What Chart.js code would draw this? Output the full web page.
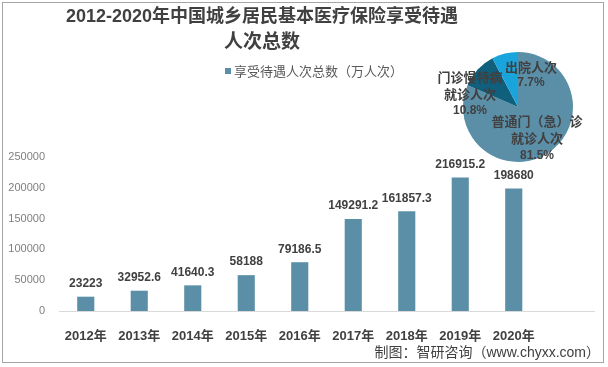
<!DOCTYPE html>
<html>
<head>
<meta charset="utf-8">
<script src="https://cdn.jsdelivr.net/npm/chart.js@4.4.1/dist/chart.umd.min.js"></script>
<style>
html,body{margin:0;padding:0;background:#fff}
#wrap{position:relative;width:608px;height:367px;overflow:hidden}
#frame{position:absolute;left:2px;top:2px;width:600px;height:359px;border:1px solid #a6a6a6;pointer-events:none}
#barBox{position:absolute;left:0;top:0;width:608px;height:367px}
#pieBox{position:absolute;left:430px;top:42px;width:176px;height:130px}
</style>
</head>
<body>
<div id="wrap">
  <div id="barBox"><canvas id="bar"></canvas></div>
  <div id="pieBox"><canvas id="pie"></canvas></div>
  <div id="frame"></div>
</div>
<script>
// ── Data ──
const years=['2012年','2013年','2014年','2015年','2016年','2017年','2018年','2019年','2020年',''];
const visits=[23223,32952.6,41640.3,58188,79186.5,149291.2,161857.3,216915.2,198680,null];
const yTicks=[0,50000,100000,150000,200000,250000];
const titleLines=['2012-2020年中国城乡居民基本医疗保险享受待遇','人次总数'];
const seriesName='享受待遇人次总数（万人次）';
const sourceText='制图：智研咨询（www.chyxx.com）';

const pieNames=['普通门（急）诊就诊人次','门诊慢特病就诊人次','出院人次'];
const pieShares=[81.5,10.8,7.7];

// ── Styles ──
const BAR='#5b8fa8';
const PIE_COLORS=[BAR,'#0f5f7d','#1aa4dc'];
const TXT='#404040';
const CJK='"Noto Sans CJK SC"';
const LAT='"Liberation Sans",'+CJK;

// ── Bar chart decorations: title, legend, value labels, source ──
const barDeco={
  id:'barDeco',
  afterDatasetsDraw(chart){
    const ctx=chart.ctx;
    ctx.save();
    ctx.textAlign='center';ctx.textBaseline='middle';
    // value labels
    ctx.font='bold 12px '+LAT;ctx.fillStyle=TXT;
    chart.getDatasetMeta(0).data.forEach((el,i)=>{
      if(visits[i]==null)return;
      ctx.fillText(String(visits[i]),el.x,el.y-13);
    });
    // title
    ctx.font='bold 18px '+LAT;ctx.fillStyle=TXT;
    ctx.fillText(titleLines[0],262,17);
    ctx.font='bold 19px '+LAT;
    ctx.fillText(titleLines[1],262,43);
    // legend
    ctx.fillStyle=BAR;ctx.fillRect(225,68,6,6);
    ctx.font='13px '+CJK;ctx.fillStyle='#595959';ctx.textAlign='left';
    ctx.fillText(seriesName,234,71);
    // source
    ctx.font='14px '+LAT;ctx.fillStyle=TXT;ctx.textAlign='right';
    ctx.fillText(sourceText,600,353);
    ctx.restore();
  }
};

new Chart(document.getElementById('bar'),{
  type:'bar',
  data:{labels:years,datasets:[{label:seriesName,data:visits,backgroundColor:BAR,barPercentage:0.64,categoryPercentage:0.5}]},
  options:{
    responsive:true,maintainAspectRatio:false,animation:false,
    layout:{padding:{top:157,right:14,left:0,bottom:0}},
    plugins:{legend:{display:false},tooltip:{enabled:false},title:{display:false}},
    scales:{
      x:{
        grid:{display:false},
        border:{color:'#d9d9d9',width:1},
        ticks:{color:TXT,font:{family:LAT,size:13,weight:'bold'},padding:10,maxRotation:0},
        afterFit(s){s.height=56}
      },
      y:{
        min:0,max:250000,
        grid:{display:false},border:{display:false},
        afterBuildTicks(s){s.ticks=yTicks.map(v=>({value:v}))},
        ticks:{color:'#7f7f7f',font:{family:LAT,size:11},padding:6,callback:v=>String(v)},
        afterFit(s){s.width=59}
      }
    }
  },
  plugins:[barDeco]
});

// ── Pie inset ──
const pieText=[
  {lines:['普通门（急）诊','就诊人次'],pct:'81.5%',x:107,ys:[79,96,114]},
  {lines:['门诊慢特病','就诊人次'],pct:'10.8%',x:40,ys:[35,52,69]},
  {lines:['出院人次'],pct:'7.7%',x:101,ys:[25,41]}
];
const pieDeco={
  id:'pieDeco',
  afterDatasetsDraw(chart){
    const ctx=chart.ctx;
    ctx.save();
    ctx.textAlign='center';ctx.textBaseline='middle';ctx.fillStyle=TXT;
    pieText.forEach((t,i)=>{
      ctx.font='bold 13px '+CJK;
      t.lines.forEach((s,j)=>ctx.fillText(s,t.x,t.ys[j]));
      ctx.font='bold 12px '+LAT;
      ctx.fillText(pieShares[i].toFixed(1)+'%',t.x,t.ys[t.lines.length]);
    });
    ctx.restore();
  }
};

new Chart(document.getElementById('pie'),{
  type:'pie',
  data:{labels:pieNames,datasets:[{data:pieShares,backgroundColor:PIE_COLORS,borderWidth:0}]},
  options:{
    responsive:true,maintainAspectRatio:false,animation:false,
    layout:{padding:10},
    plugins:{legend:{display:false},tooltip:{enabled:false}}
  },
  plugins:[pieDeco]
});
</script>
</body>
</html>
